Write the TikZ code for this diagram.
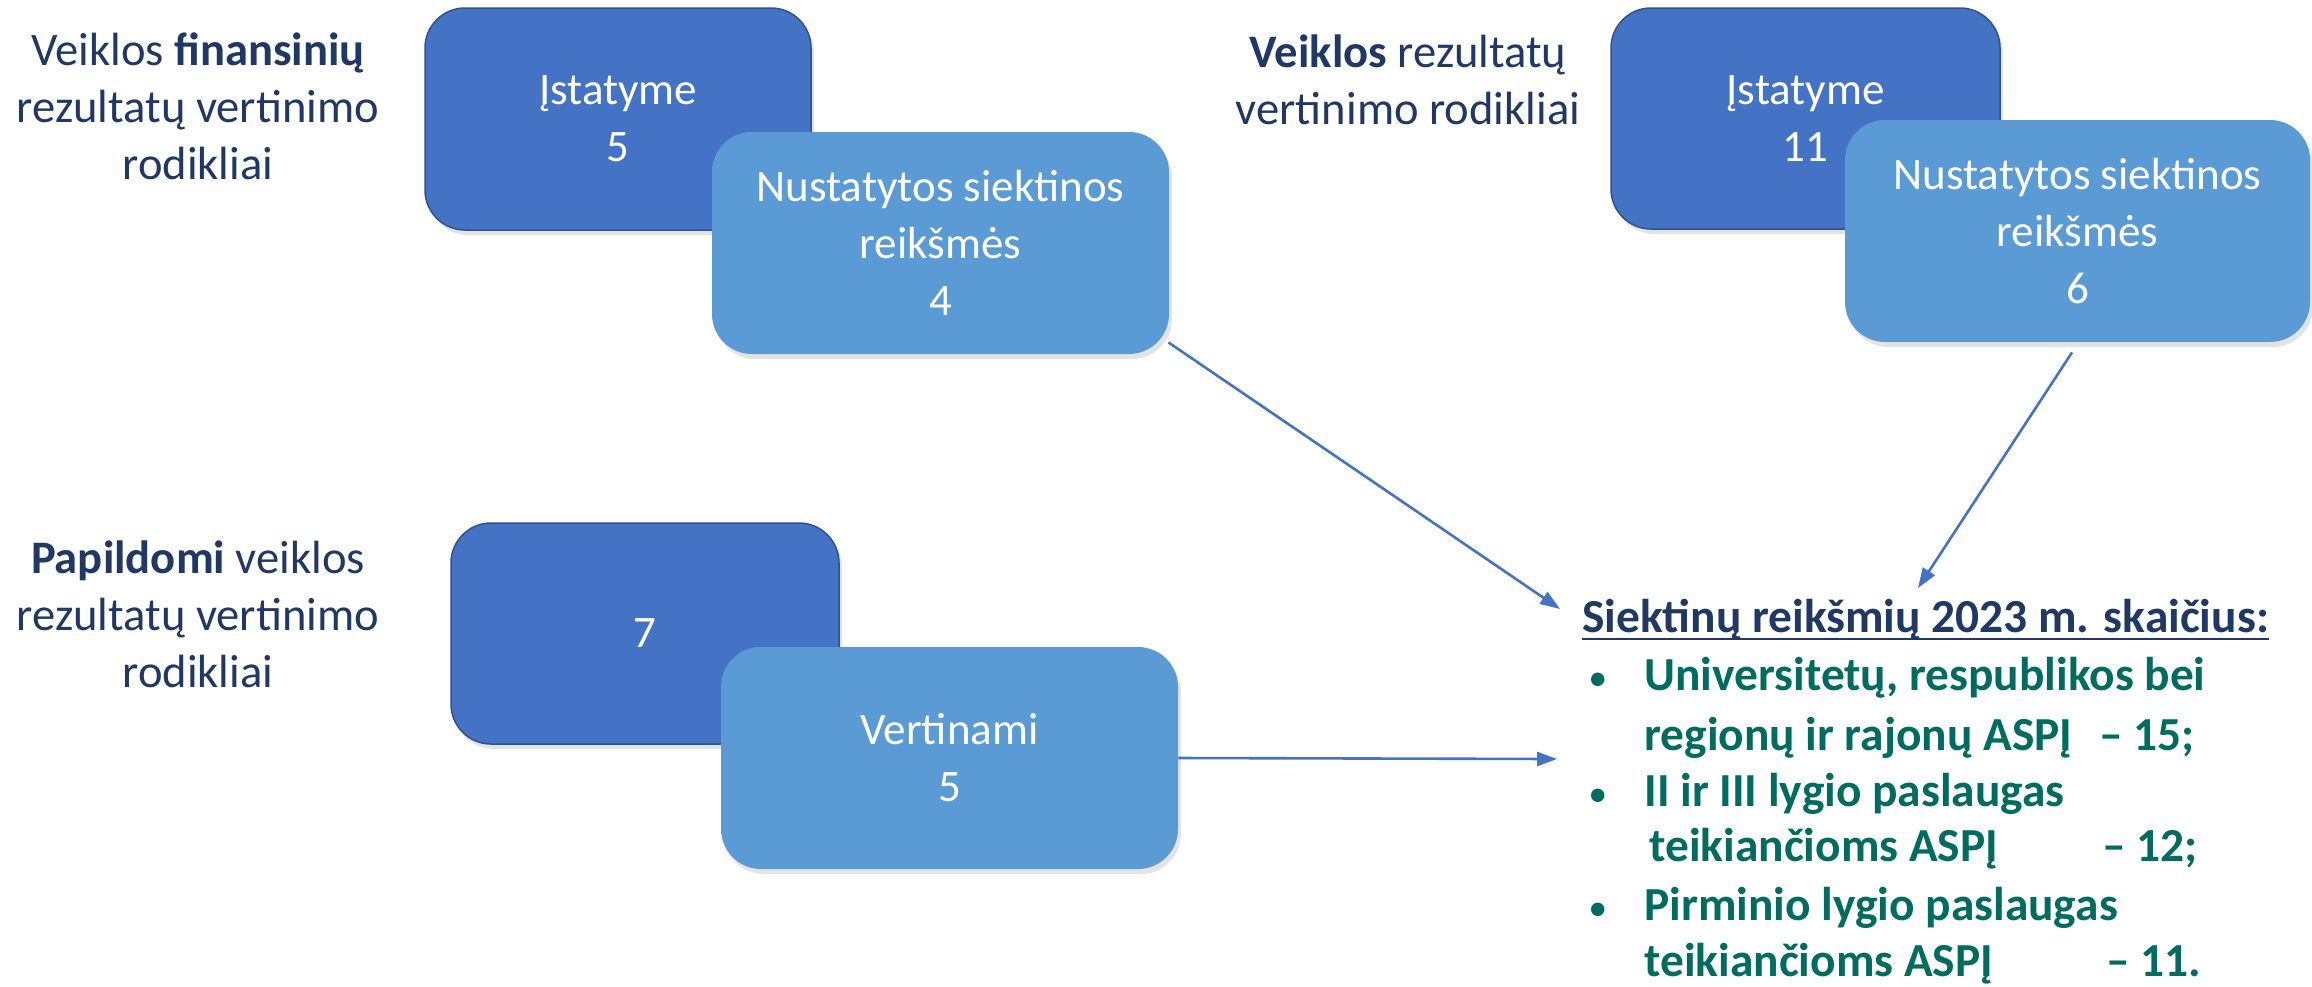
\documentclass[tikz,border=0pt]{standalone}
\usepackage{fontspec}
\setmainfont{Carlito}
\usetikzlibrary{shadows,arrows.meta}
\definecolor{darkbox}{HTML}{4472C4}
\definecolor{darkedge}{HTML}{2F528F}
\definecolor{lightbox}{HTML}{5B9BD5}
\definecolor{navytxt}{HTML}{203864}
\definecolor{tealtxt}{HTML}{006B5F}
\definecolor{arrowc}{HTML}{4472C4}
\begin{document}
\begin{tikzpicture}[x=0.5pt,y=-0.5pt,
  every node/.style={font=\fontsize{22.5}{28.5}\selectfont},
  boxshadow/.style={drop shadow={opacity=0.22, shadow xshift=1.5pt, shadow yshift=-2.5pt}},
  darkrect/.style={rectangle, rounded corners=20pt, fill=darkbox, draw=darkedge,
    line width=0.75pt, text=white, align=center, boxshadow, inner sep=0pt},
  lightrect/.style={rectangle, rounded corners=20pt, fill=lightbox, draw=none,
    text=white, align=center, boxshadow, inner sep=0pt},
  sidelabel/.style={text=navytxt, align=center, inner sep=0pt,
    font=\fontsize{23.3}{28.5}\selectfont},
  listline/.style={anchor=base west, text=tealtxt, inner sep=0pt,
    font=\fontsize{23.7}{28.5}\selectfont\bfseries},
  numline/.style={listline, anchor=base east},
  bulletmark/.style={anchor=base west, text=tealtxt, inner sep=0pt,
    font=\fontsize{19}{28.5}\selectfont},
  conn/.style={draw=arrowc, line width=1.3pt, -{Triangle[length=10pt,width=7pt]}}
]
\useasboundingbox (0,0) rectangle (2312,986);

% side labels
\node[sidelabel] (l1) at (198,106) {Veiklos \textbf{finansinių}\\rezultatų vertinimo\\rodikliai};
\node[sidelabel] (l2) at (1408,80) {\textbf{Veiklos} rezultatų\\vertinimo rodikliai};
\node[sidelabel] (l3) at (198,614) {\textbf{Papildomi} veiklos\\rezultatų vertinimo\\rodikliai};

% boxes
\node[darkrect, minimum width=193pt, minimum height=111pt] (b1) at (618,119) {Įstatyme\\5};
\node[lightrect, minimum width=228.5pt, minimum height=111pt] (b2) at (940.5,243) {Nustatytos siektinos\\reikšmės\\4};
\node[darkrect, minimum width=194.5pt, minimum height=110.5pt] (b3) at (1805.5,118.5) {Įstatyme\\11};
\node[lightrect, minimum width=232.5pt, minimum height=111pt] (b4) at (2077.5,231) {Nustatytos siektinos\\reikšmės\\6};
\node[darkrect, minimum width=194pt, minimum height=110.5pt] (b5) at (645,633.5) {7};
\node[lightrect, minimum width=228.5pt, minimum height=111pt] (b6) at (949.5,758) {Vertinami\\5};

% right text block
\node[anchor=base west, inner sep=0pt, text=navytxt, font=\fontsize{23.7}{28.5}\selectfont\bfseries] (head) at (1582,632) {Siektinų reikšmių 2023 m. skaičius:};
\draw[navytxt, line width=1.1pt] ([yshift=-3.5pt]head.base west) -- ([yshift=-3.5pt]head.base east);

\node[bulletmark] (bu1) at (1588,690) {\textbullet};
\node[listline] (t1) at (1644,690) {Universitetų, respublikos bei};
\node[listline] (t2) at (1644,750) {regionų ir rajonų ASPĮ};
\node[numline] (n2) at (2195,750) {– 15;};
\node[bulletmark] (bu2) at (1588,806) {\textbullet};
\node[listline] (t3) at (1644,806) {II ir III lygio paslaugas};
\node[listline] (t4) at (1649,861) {teikiančioms ASPĮ};
\node[numline] (n4) at (2198,861) {– 12;};
\node[bulletmark] (bu3) at (1588,920) {\textbullet};
\node[listline] (t5) at (1644,920) {Pirminio lygio paslaugas};
\node[listline] (t6) at (1644,976) {teikiančioms ASPĮ};
\node[numline] (n6) at (2202,976) {– 11.};

% connectors
\coordinate (e1) at (1560,609);
\coordinate (e2) at (1918,588);
\coordinate (e3) at (1557,759);
\draw[conn] ([xshift=-0.5pt,yshift=6pt]b2.south east) -- (e1);
\draw[conn] ([xshift=-2.75pt,yshift=-5pt]b4.south) -- (e2);
\draw[conn] (b6.east) -- (e3);
\end{tikzpicture}
\end{document}
